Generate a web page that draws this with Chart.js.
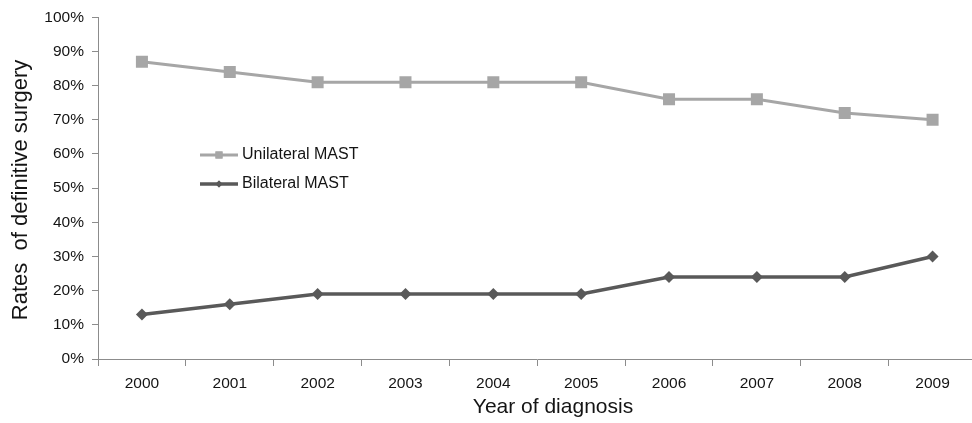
<!DOCTYPE html>
<html>
<head>
<meta charset="utf-8">
<title>Rates of definitive surgery by year of diagnosis</title>
<script src="https://cdn.jsdelivr.net/npm/chart.js@4/dist/chart.umd.min.js"></script>
<style>
  html, body { margin: 0; padding: 0; background: #ffffff; overflow: hidden; }
  #wrap { width: 972px; height: 423px; overflow: hidden; }
  canvas { display: block; }
</style>
</head>
<body>
<div id="wrap"><canvas id="chart" width="985" height="423"></canvas></div>
<script>
// Year of diagnosis
const years = ['2000', '2001', '2002', '2003', '2004', '2005', '2006', '2007', '2008', '2009'];
// Share of definitive surgery, percent
const unilateralMast = [87, 84, 81, 81, 81, 81, 76, 76, 72, 70];
const bilateralMast = [13, 16, 19, 19, 19, 19, 24, 24, 24, 30];
// Value axis ticks
const yTicks = [0, 10, 20, 30, 40, 50, 60, 70, 80, 90, 100];

const seriesNames = ['Unilateral MAST', 'Bilateral MAST'];
const xTitle = 'Year of diagnosis';
const yTitle = 'Rates  of definitive surgery';

const FONT = '"Liberation Sans", Arial, sans-serif';
const TEXT = '#141414';
const AXIS = '#8c8c8c';
const UNI = '#a6a6a6';
const BI = '#595959';

// Legend sits inside the plot area, and the axis titles are placed by hand
const overlay = {
  id: 'overlay',
  afterDraw(chart) {
    const ctx = chart.ctx;
    ctx.save();
    // legend entries
    const entries = [
      { label: seriesNames[0], color: UNI, style: 'rect', r: 5, y: 155, w: 3 },
      { label: seriesNames[1], color: BI, style: 'rectRot', r: 3.5, y: 184, w: 3.5 }
    ];
    entries.forEach(e => {
      ctx.strokeStyle = e.color;
      ctx.lineWidth = e.w;
      ctx.beginPath();
      ctx.moveTo(200, e.y);
      ctx.lineTo(238, e.y);
      ctx.stroke();
      ctx.fillStyle = e.color;
      Chart.helpers.drawPoint(ctx, { pointStyle: e.style, radius: e.r, borderWidth: 0 }, 219, e.y);
      ctx.fill();
      ctx.fillStyle = TEXT;
      ctx.font = '16px ' + FONT;
      ctx.textAlign = 'left';
      ctx.textBaseline = 'middle';
      ctx.fillText(e.label, 242, e.y);
    });
    // x axis title
    ctx.fillStyle = TEXT;
    ctx.font = '21px ' + FONT;
    ctx.textAlign = 'center';
    ctx.textBaseline = 'middle';
    ctx.fillText(xTitle, 553, 407);
    // y axis title
    ctx.translate(21, 190);
    ctx.rotate(-Math.PI / 2);
    ctx.font = '22px ' + FONT;
    ctx.fillText(yTitle, 0, 0);
    ctx.restore();
  }
};

new Chart(document.getElementById('chart'), {
  type: 'line',
  data: {
    labels: years,
    datasets: [
      {
        label: seriesNames[0],
        data: unilateralMast,
        borderColor: UNI,
        backgroundColor: UNI,
        borderWidth: 3,
        pointStyle: 'rect',
        pointRadius: 8.5,
        pointBorderWidth: 0,
        tension: 0
      },
      {
        label: seriesNames[1],
        data: bilateralMast,
        borderColor: BI,
        backgroundColor: BI,
        borderWidth: 3.5,
        pointStyle: 'rectRot',
        pointRadius: 6,
        pointBorderWidth: 0,
        tension: 0
      }
    ]
  },
  options: {
    responsive: false,
    animation: false,
    devicePixelRatio: 1,
    layout: { padding: { top: 17, right: 2, left: 0, bottom: 0 } },
    plugins: {
      legend: { display: false },
      tooltip: { enabled: false }
    },
    scales: {
      x: {
        type: 'category',
        offset: true,
        border: { display: true, color: AXIS, width: 1 },
        grid: { display: true, offset: true, drawOnChartArea: false, drawTicks: true, tickLength: 7, color: AXIS },
        ticks: { color: TEXT, font: { family: FONT, size: 15.5 }, padding: 8, maxRotation: 0, autoSkip: false },
        afterFit(scale) { scale.height = 64; }
      },
      y: {
        min: 0,
        max: 100,
        border: { display: true, color: AXIS, width: 1 },
        grid: { display: true, drawOnChartArea: false, drawTicks: true, tickLength: 6, color: AXIS },
        afterBuildTicks(scale) { scale.ticks = yTicks.map(v => ({ value: v })); },
        ticks: {
          color: TEXT,
          font: { family: FONT, size: 15.5 },
          padding: 8,
          callback: v => v + '%'
        },
        afterFit(scale) { scale.width = 98; }
      }
    }
  },
  plugins: [overlay]
});
</script>
</body>
</html>
